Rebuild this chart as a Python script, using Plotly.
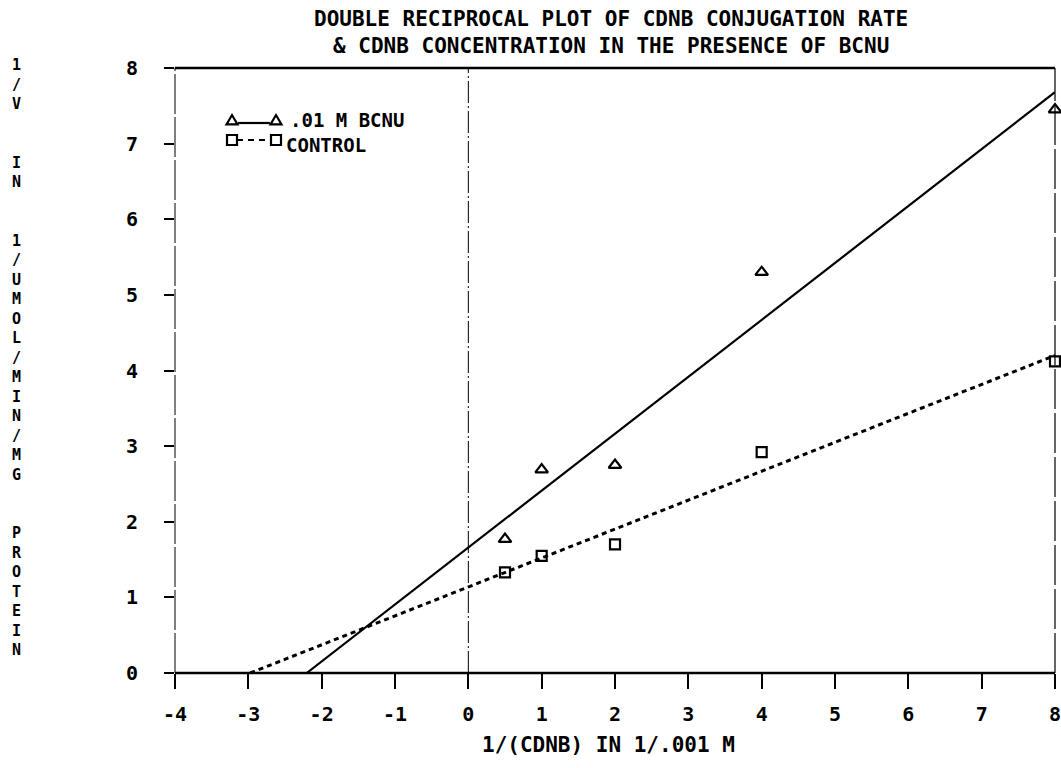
import numpy as np
import plotly.graph_objects as go

# ---------------- data ----------------
x_recip_cdnb = [0.5, 1, 2, 4, 8]
inv_v_bcnu = [1.77, 2.69, 2.75, 5.30, 7.45]
inv_v_control = [1.33, 1.55, 1.70, 2.92, 4.12]

x_tick_vals = [-4, -3, -2, -1, 0, 1, 2, 3, 4, 5, 6, 7, 8]
x_tick_text = ["-4", "-3", "-2", "-1", "0", "1", "2", "3", "4", "5", "6", "7", "8"]
y_tick_vals = [0, 1, 2, 3, 4, 5, 6, 7, 8]
y_tick_text = ["0", "1", "2", "3", "4", "5", "6", "7", "8"]

title_lines = ["DOUBLE RECIPROCAL PLOT OF CDNB CONJUGATION RATE",
               "& CDNB CONCENTRATION IN THE PRESENCE OF BCNU"]
x_title = "1/(CDNB) IN 1/.001 M"
y_title_words = ["1/V", "IN", "1/UMOL/MIN/MG", "PROTEIN"]
legend_names = [".01 M BCNU", "CONTROL"]

# ---------------- layout geometry ----------------
W, H = 1061, 768
L, R, T, B = 175, 1055, 68, 673       # plot-area pixel box
PW, PH = R - L, B - T
FONT = "DejaVu Sans Mono"

def px2paper(px, py):
    return (px - L) / PW, (B - py) / PH

def fit_line(xv, yv):
    m, b = np.polyfit(xv, yv, 1)
    x0 = -b / m
    x1 = max(xv)
    return [x0, x1], [0.0, m * x1 + b]

fig = go.Figure()

# regression lines
xs, ys = fit_line(x_recip_cdnb, inv_v_bcnu)
fig.add_trace(go.Scatter(x=xs, y=ys, mode="lines", line=dict(color="black", width=2.2),
                         showlegend=False, cliponaxis=False, hoverinfo="skip"))
xs, ys = fit_line(x_recip_cdnb, inv_v_control)
fig.add_trace(go.Scatter(x=xs, y=ys, mode="lines",
                         line=dict(color="black", width=3, dash="5px,4px"),
                         showlegend=False, cliponaxis=False, hoverinfo="skip"))

# data points
fig.add_trace(go.Scatter(x=x_recip_cdnb, y=inv_v_bcnu, mode="markers", name=legend_names[0],
                         marker=dict(symbol="triangle-up-open", size=11, color="black",
                                     line=dict(width=2.2, color="black")),
                         showlegend=False, cliponaxis=False))
fig.add_trace(go.Scatter(x=x_recip_cdnb, y=inv_v_control, mode="markers", name=legend_names[1],
                         marker=dict(symbol="square-open", size=10, color="black",
                                     line=dict(width=2.2, color="black")),
                         showlegend=False, cliponaxis=False))

shapes = []
# frame pieces
shapes.append(dict(type="line", xref="paper", yref="paper", x0=0, x1=1, y0=1, y1=1,
                   line=dict(color="black", width=2.5)))
shapes.append(dict(type="line", xref="paper", yref="paper", x0=0, x1=0, y0=0, y1=1,
                   line=dict(color="black", width=1, dash="40px,3px")))
shapes.append(dict(type="line", xref="paper", yref="paper", x0=1, x1=1, y0=0, y1=1,
                   line=dict(color="black", width=1.2, dash="40px,4px")))
shapes.append(dict(type="line", xref="x", yref="paper", x0=0, x1=0, y0=0, y1=1,
                   line=dict(color="black", width=1, dash="22px,3px,2px,3px")))
shapes.append(dict(type="line", xref="paper", yref="paper", x0=0, x1=1, y0=0, y1=0,
                   line=dict(color="black", width=2.5)))

# legend samples (decoration)
def tri_path(cx, cy, s=5.5):
    pts = [(cx - s, cy + s * 0.8), (cx + s, cy + s * 0.8), (cx, cy - s * 0.9)]
    pp = [px2paper(a, b) for a, b in pts]
    return "M {} {} L {} {} L {} {} Z".format(pp[0][0], pp[0][1], pp[1][0], pp[1][1], pp[2][0], pp[2][1])

def sq_path(cx, cy, s=5):
    pts = [(cx - s, cy - s), (cx + s, cy - s), (cx + s, cy + s), (cx - s, cy + s)]
    pp = [px2paper(a, b) for a, b in pts]
    return "M {} {} L {} {} L {} {} L {} {} Z".format(*[v for p in pp for v in p])

for cx in (232, 276):
    shapes.append(dict(type="path", xref="paper", yref="paper", path=tri_path(cx, 120),
                       line=dict(color="black", width=2.2)))
    shapes.append(dict(type="path", xref="paper", yref="paper", path=sq_path(cx, 140),
                       line=dict(color="black", width=2.2)))
ax0, ay0 = px2paper(238, 123)
ax1, ay1 = px2paper(270, 123)
shapes.append(dict(type="line", xref="paper", yref="paper", x0=ax0, x1=ax1, y0=ay0, y1=ay1,
                   line=dict(color="black", width=2.2)))
bx0, by0 = px2paper(237, 140)
bx1, by1 = px2paper(271, 140)
shapes.append(dict(type="line", xref="paper", yref="paper", x0=bx0, x1=bx1, y0=by0, y1=by1,
                   line=dict(color="black", width=2, dash="6px,5px")))

annotations = []
# title
for line, py in zip(title_lines, (19, 46)):
    px, pyp = px2paper(611, py)
    annotations.append(dict(text=line, xref="paper", yref="paper", x=px, y=pyp,
                            xanchor="center", yanchor="middle", showarrow=False,
                            font=dict(family=FONT, size=21, color="black", weight="bold")))
# legend texts
for name, (lx, ly) in zip(legend_names, ((288, 120), (284, 145))):
    px, pyp = px2paper(lx, ly)
    annotations.append(dict(text=name, xref="paper", yref="paper", x=px, y=pyp,
                            xanchor="left", yanchor="middle", showarrow=False,
                            font=dict(family=FONT, size=19, color="black", weight="bold")))
# x title
px, pyp = px2paper(608, 745)
annotations.append(dict(text=x_title, xref="paper", yref="paper", x=px, y=pyp,
                        xanchor="center", yanchor="middle", showarrow=False,
                        font=dict(family=FONT, size=21, color="black", weight="bold")))
# y title, stacked vertically
blank = "\u00a0"
lines = []
for wi, word in enumerate(y_title_words):
    if wi > 0:
        lines += [blank, blank]
    lines += list(word)
px, pyp = px2paper(17, 357)
annotations.append(dict(text="<br>".join(lines), xref="paper", yref="paper", x=px, y=pyp,
                        xanchor="center", yanchor="middle", align="center", showarrow=False,
                        font=dict(family=FONT, size=15, color="black", weight="bold")))

fig.update_layout(
    width=W, height=H,
    margin=dict(l=L, r=W - R, t=T, b=H - B, pad=0, autoexpand=False),
    paper_bgcolor="white", plot_bgcolor="white",
    showlegend=False,
    shapes=shapes, annotations=annotations,
    font=dict(family=FONT, color="black"),
)
fig.update_xaxes(range=[-4, 8], tickmode="array", tickvals=x_tick_vals, ticktext=x_tick_text,
                 ticks="outside", ticklen=15, tickwidth=2, tickcolor="black",
                 ticklabelstandoff=8, ticklabeloverflow="allow", automargin=False,
                 tickfont=dict(family=FONT, size=20, color="black", weight="bold"),
                 showgrid=False, zeroline=False, showline=False)
fig.update_yaxes(range=[0, 8], tickmode="array", tickvals=y_tick_vals, ticktext=y_tick_text,
                 ticks="outside", ticklen=10, tickwidth=2, tickcolor="black",
                 ticklabelstandoff=22, automargin=False,
                 tickfont=dict(family=FONT, size=20, color="black", weight="bold"),
                 showgrid=False, zeroline=False, showline=False)

fig.write_html("out.html")
